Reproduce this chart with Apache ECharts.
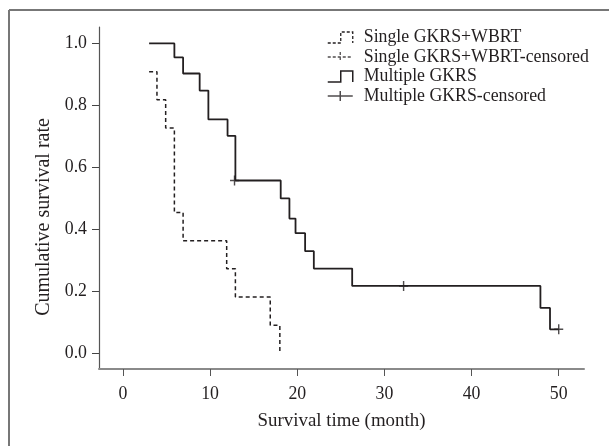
<!DOCTYPE html>
<html>
<head>
<meta charset="utf-8">
<script src="https://cdn.jsdelivr.net/npm/echarts@6/dist/echarts.min.js"></script>
<style>
  html, body { margin: 0; padding: 0; background: #fff; }
  #chart { width: 609px; height: 446px; }
</style>
</head>
<body>
<div id="chart"></div>
<script>
// ---- data ----
const singleTime = [3.0, 3.9, 4.9, 5.9, 6.9, 11.9, 12.9, 16.9, 18.0];
const singleSurv = [0.909, 0.818, 0.727, 0.455, 0.364, 0.273, 0.182, 0.091, 0.0];
const singleCensorTime = [];
const singleCensorSurv = [];

const multiTime = [3.0, 5.9, 6.9, 8.8, 9.8, 12.0, 12.9, 18.1, 19.1, 19.8, 20.9, 21.9, 26.3, 47.9, 49.0, 50.0];
const multiSurv = [1.0, 0.955, 0.903, 0.848, 0.755, 0.702, 0.558, 0.50, 0.435, 0.388, 0.33, 0.274, 0.218, 0.147, 0.078, 0.078];
const multiCensorTime = [12.8, 32.2, 50.0];
const multiCensorSurv = [0.558, 0.218, 0.078];

const xTicks = [0, 10, 20, 30, 40, 50];
const yTicks = [0.0, 0.2, 0.4, 0.6, 0.8, 1.0];

const seriesNames = ['Single GKRS+WBRT', 'Single GKRS+WBRT-censored', 'Multiple GKRS', 'Multiple GKRS-censored'];
const xTitle = 'Survival time (month)';
const yTitle = 'Cumulative survival rate';

// ---- build chart ----
const zip = (a, b) => a.map((v, i) => [v, b[i]]);
const ink = '#231f20';
const font = '"Liberation Serif", "DejaVu Serif", serif';
const dash = [4, 3];

const chart = echarts.init(document.getElementById('chart'), null, { renderer: 'canvas' });
chart.setOption({
  animation: false,
  backgroundColor: '#fff',
  textStyle: { fontFamily: font, color: ink },
  grid: { left: 99, right: 25, top: 27, bottom: 77, containLabel: false },
  graphic: [
    { type: 'line', shape: { x1: 9, y1: 10, x2: 609, y2: 10 }, style: { stroke: '#777', lineWidth: 2 } },
    { type: 'line', shape: { x1: 9, y1: 10, x2: 9, y2: 446 }, style: { stroke: '#777', lineWidth: 2 } }
  ],
  legend: {
    orient: 'vertical',
    left: 327,
    top: 28,
    padding: 0,
    itemGap: 0.5,
    itemWidth: 25,
    itemHeight: 11,
    textStyle: { fontFamily: font, fontSize: 17.8, color: ink, lineHeight: 19, padding: [0, 0, 0, 6] },
    data: [
      { name: seriesNames[0], icon: 'path://M0,11 L13,11 L13,0 L25,0 L25,11',
        itemStyle: { color: 'transparent', borderColor: ink, borderWidth: 1.3, borderType: [3, 2] } },
      { name: seriesNames[1], icon: 'path://M0,6 L25,6 M12.5,1 L12.5,11',
        itemStyle: { color: 'transparent', borderColor: ink, borderWidth: 1.3, borderType: [3, 2] } },
      { name: seriesNames[2], icon: 'path://M0,11 L13,11 L13,0 L25,0 L25,11',
        itemStyle: { color: 'transparent', borderColor: ink, borderWidth: 1.5, borderType: 'solid' } },
      { name: seriesNames[3], icon: 'path://M0,6 L25,6 M12.5,1 L12.5,11',
        itemStyle: { color: 'transparent', borderColor: ink, borderWidth: 1.5, borderType: 'solid' } }
    ]
  },
  xAxis: {
    type: 'value',
    min: -2.75,
    max: 52.9,
    name: xTitle,
    nameLocation: 'middle',
    nameGap: 43,
    nameTextStyle: { fontFamily: font, fontSize: 18.9, color: ink },
    axisLine: { onZero: false, lineStyle: { color: '#8a8a8a', width: 2 } },
    axisTick: { show: true, length: 7, customValues: xTicks, lineStyle: { color: '#555', width: 1 } },
    axisLabel: { customValues: xTicks, margin: 16, fontFamily: font, fontSize: 17.8, color: ink },
    splitLine: { show: false }
  },
  yAxis: {
    type: 'value',
    min: -0.05,
    max: 1.053,
    name: yTitle,
    nameLocation: 'middle',
    nameRotate: 90,
    nameGap: 38,
    nameTextStyle: { fontFamily: font, fontSize: 20, color: ink, padding: [0, 38, 0, 0] },
    axisLine: { show: true, onZero: false, lineStyle: { color: '#555', width: 1.2 } },
    axisTick: { show: true, length: 7, customValues: yTicks, lineStyle: { color: '#444', width: 1 } },
    axisLabel: { customValues: yTicks, margin: 12, fontFamily: font, fontSize: 17.8, color: ink,
      formatter: v => v.toFixed(1) },
    splitLine: { show: false }
  },
  series: [
    {
      name: seriesNames[0], type: 'line', step: 'end', symbol: 'none',
      data: zip(singleTime, singleSurv),
      itemStyle: { color: ink },
      lineStyle: { color: ink, width: 1.5, type: dash }
    },
    {
      name: seriesNames[1], type: 'scatter',
      symbol: 'path://M5,0 L5,10 M0,5 L10,5', symbolSize: [9, 10],
      data: zip(singleCensorTime, singleCensorSurv),
      itemStyle: { color: 'transparent', borderColor: ink, borderWidth: 1.5 }
    },
    {
      name: seriesNames[2], type: 'line', step: 'end', symbol: 'none',
      data: zip(multiTime, multiSurv),
      itemStyle: { color: ink },
      lineStyle: { color: ink, width: 1.8 }
    },
    {
      name: seriesNames[3], type: 'scatter',
      symbol: 'path://M5,0 L5,10 M0,5 L10,5', symbolSize: [9, 10],
      data: zip(multiCensorTime, multiCensorSurv),
      itemStyle: { color: 'transparent', borderColor: ink, borderWidth: 1.5 },
      z: 3
    }
  ]
});
</script>
</body>
</html>
